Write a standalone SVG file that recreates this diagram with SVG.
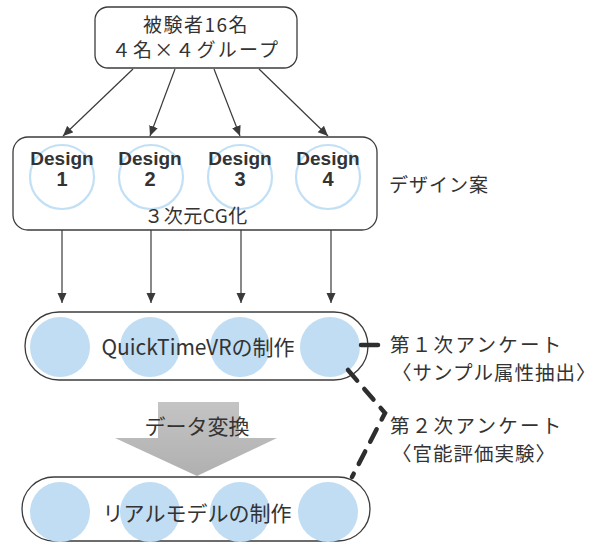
<svg xmlns="http://www.w3.org/2000/svg" width="603" height="545" viewBox="0 0 603 545">
  <defs>
    <marker id="arrowhead" viewBox="0 0 10 10" refX="10" refY="5" markerWidth="10" markerHeight="10" markerUnits="userSpaceOnUse" orient="auto">
      <path d="M0,0.5 L10,5 L0,9.5 Z" fill="#3a3a3a"/>
    </marker>
    <linearGradient id="grayFill" x1="0" y1="0" x2="0" y2="1">
      <stop offset="0" stop-color="#c4c4c4"/>
      <stop offset="1" stop-color="#b0b0b0"/>
    </linearGradient>
  </defs>
  <style>
    .box { fill: #ffffff; stroke: #3c3c3c; stroke-width: 1.3; }
    .ring { fill: none; stroke: #c2e0f5; stroke-width: 2.2; }
    .dot { fill: #c0ddf3; }
    .txt { font-family: "Noto Sans CJK JP", "Noto Sans", sans-serif; fill: #333333; }
    .lat { font-family: "Liberation Sans", "Noto Sans", sans-serif; font-weight: bold; fill: #333333; }
    .link { stroke: #3a3a3a; stroke-width: 1.2; fill: none; marker-end: url(#arrowhead); }
    .thick { stroke: #2e2e2e; stroke-width: 4.5; stroke-linecap: round; fill: none; }
  </style>
  <rect width="603" height="545" fill="#ffffff"/>

  <!-- subjects -->
  <g id="subjects">
    <rect class="box" x="95" y="7" width="202" height="61" rx="13"/>
    <text class="txt" x="196" y="32" font-size="19" text-anchor="middle" letter-spacing="1.5">被験者16名</text>
    <text class="txt" x="196" y="57" font-size="19" text-anchor="middle" letter-spacing="2.2">４名×４グループ</text>
  </g>

  <!-- design proposals -->
  <g id="designs">
    <rect class="box" x="13" y="137" width="364" height="93" rx="15"/>
    <circle class="ring" cx="62" cy="177" r="32"/>
    <circle class="ring" cx="151" cy="177" r="32"/>
    <circle class="ring" cx="240" cy="177" r="32"/>
    <circle class="ring" cx="328" cy="177" r="32"/>
    <g class="lat" font-size="19" text-anchor="middle">
      <text x="62" y="165">Design</text>
      <text x="62" y="186" font-size="20">1</text>
      <text x="150" y="165">Design</text>
      <text x="150" y="186" font-size="20">2</text>
      <text x="240" y="165">Design</text>
      <text x="240" y="186" font-size="20">3</text>
      <text x="328" y="165">Design</text>
      <text x="328" y="186" font-size="20">4</text>
    </g>
    <text class="txt" x="196" y="223" font-size="19" text-anchor="middle" letter-spacing="0.5">３次元CG化</text>
  </g>

  <g id="design-label">
    <text class="txt" x="389" y="192" font-size="19" letter-spacing="1">デザイン案</text>
  </g>

  <!-- QuickTime VR stage -->
  <g id="quicktime">
    <rect class="box" x="25" y="312" width="343" height="68" rx="34"/>
    <circle class="dot" cx="60" cy="347" r="30"/>
    <circle class="dot" cx="150" cy="347" r="30"/>
    <circle class="dot" cx="240" cy="347" r="30"/>
    <circle class="dot" cx="330" cy="347" r="30"/>
    <text class="txt" x="198" y="355" font-size="21" text-anchor="middle">QuickTimeVRの制作</text>
  </g>

  <!-- conversion arrow -->
  <g id="conversion">
    <path d="M158,402 L239,402 L239,438 L277,438 L197,476 L115,438 L158,438 Z" fill="url(#grayFill)"/>
    <text class="txt" x="197" y="434" font-size="21" text-anchor="middle">データ変換</text>
  </g>

  <!-- real model stage -->
  <g id="realmodel">
    <rect class="box" x="22" y="477" width="348" height="64" rx="32"/>
    <circle class="dot" cx="60" cy="512" r="30"/>
    <circle class="dot" cx="150" cy="512" r="30"/>
    <circle class="dot" cx="240" cy="512" r="30"/>
    <circle class="dot" cx="328" cy="512" r="30"/>
    <text class="txt" x="197" y="521" font-size="21" text-anchor="middle">リアルモデルの制作</text>
  </g>

  <!-- survey labels -->
  <g id="survey1">
    <text class="txt" x="390" y="352" font-size="19.5" letter-spacing="2.3">第１次アンケート</text>
    <text class="txt" x="392" y="380" font-size="19.5" letter-spacing="1">〈サンプル属性抽出〉</text>
  </g>
  <g id="survey2">
    <text class="txt" x="390" y="433" font-size="19.5" letter-spacing="2.3">第２次アンケート</text>
    <text class="txt" x="392" y="461" font-size="19.5" letter-spacing="1">〈官能評価実験〉</text>
  </g>

  <!-- connectors -->
  <g id="connectors">
    <line class="link" x1="133" y1="69" x2="63" y2="136"/>
    <line class="link" x1="175" y1="69" x2="150" y2="136"/>
    <line class="link" x1="214" y1="69" x2="240" y2="136"/>
    <line class="link" x1="259" y1="69" x2="328" y2="136"/>
    <line class="link" x1="62" y1="230" x2="62" y2="303"/>
    <line class="link" x1="151" y1="230" x2="151" y2="303"/>
    <line class="link" x1="241" y1="230" x2="241" y2="303"/>
    <line class="link" x1="331" y1="230" x2="331" y2="303"/>
    <line class="thick" x1="361" y1="345" x2="378" y2="345"/>
    <polyline class="thick" points="348,370 385,413 352,477" stroke-dasharray="14,11"/>
  </g>
</svg>
